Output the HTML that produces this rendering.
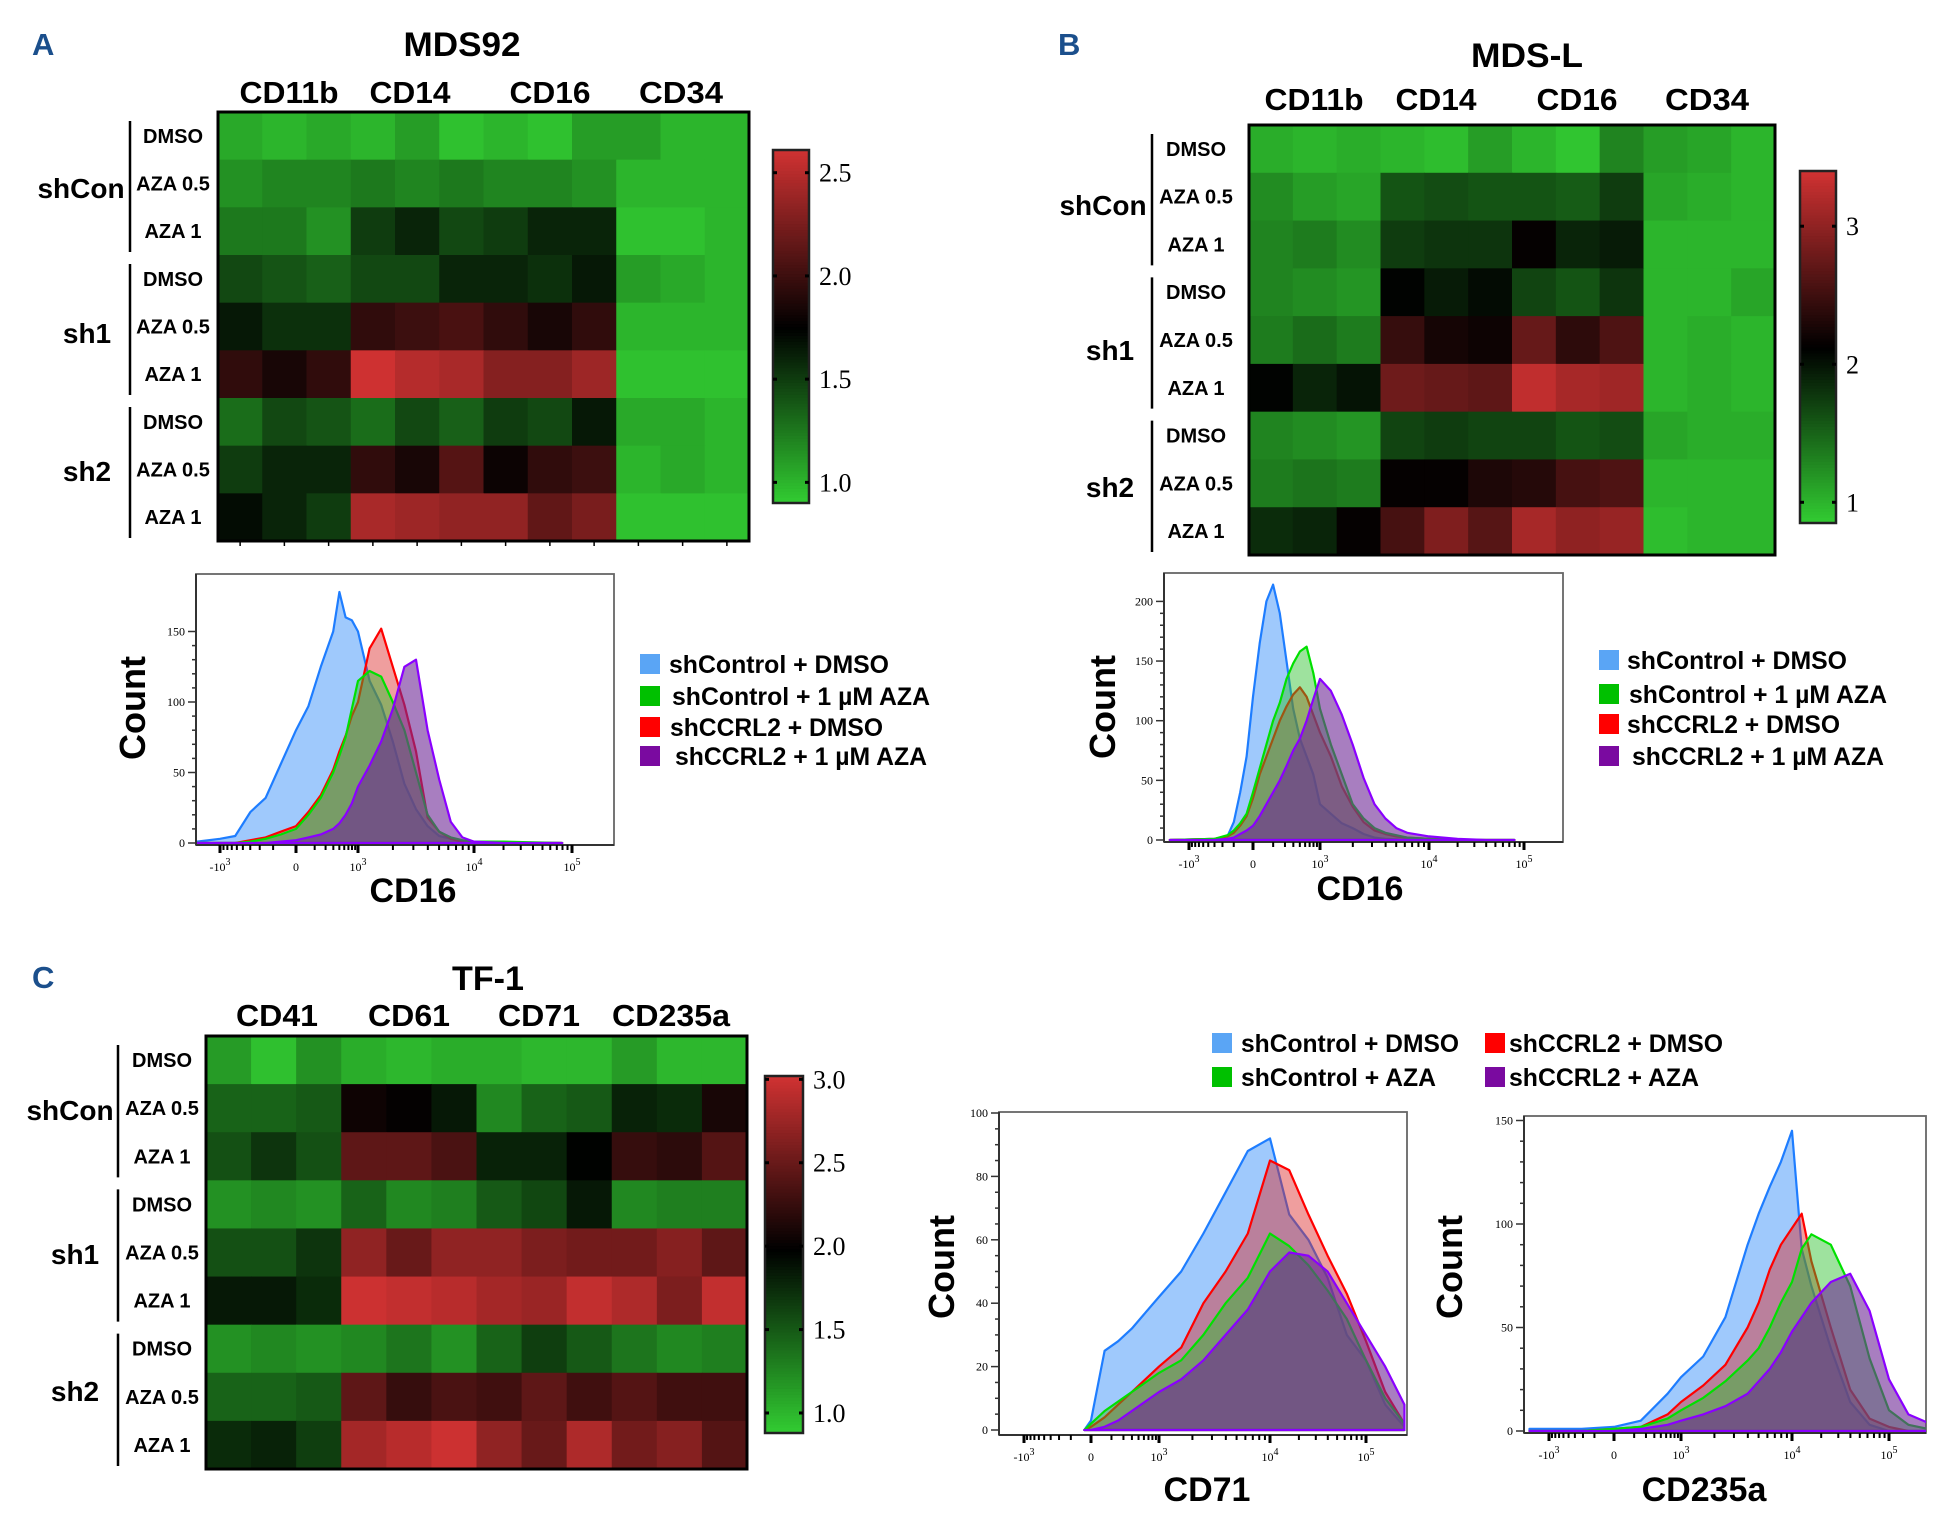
<!DOCTYPE html>
<html><head><meta charset="utf-8"><title>CCRL2 knockdown heatmaps and flow histograms</title>
<style>
html,body{margin:0;padding:0;background:#fff;}
svg{display:block;}
.nb{font-family:"Liberation Sans Narrow","Liberation Sans",sans-serif;font-weight:bold;fill:#000;}
.wb{font-family:"Liberation Sans",sans-serif;font-weight:bold;fill:#000;}
.sf{font-family:"Liberation Serif",serif;fill:#000;}
.pl{font-family:"Liberation Sans",sans-serif;font-weight:bold;fill:#1b4f8c;}
</style></head>
<body>
<svg id="fig" width="1936" height="1513" viewBox="0 0 1936 1513" xmlns="http://www.w3.org/2000/svg">
<rect width="1936" height="1513" fill="#fff"/>
<defs id="defs"></defs>
<!-- Panel A -->
<text class="pl" x="32" y="55" font-size="31">A</text>
<text class="nb" x="462" y="56" font-size="34" text-anchor="middle" textLength="117" lengthAdjust="spacingAndGlyphs">MDS92</text>
<text class="nb" x="289" y="103" font-size="31" text-anchor="middle" textLength="99" lengthAdjust="spacingAndGlyphs">CD11b</text>
<text class="nb" x="410" y="103" font-size="31" text-anchor="middle" textLength="81" lengthAdjust="spacingAndGlyphs">CD14</text>
<text class="nb" x="550" y="103" font-size="31" text-anchor="middle" textLength="81" lengthAdjust="spacingAndGlyphs">CD16</text>
<text class="nb" x="681" y="103" font-size="31" text-anchor="middle" textLength="84" lengthAdjust="spacingAndGlyphs">CD34</text>
<!-- Panel B -->
<text class="pl" x="1058" y="55" font-size="31">B</text>
<text class="nb" x="1527" y="67" font-size="34" text-anchor="middle" textLength="112" lengthAdjust="spacingAndGlyphs">MDS-L</text>
<text class="nb" x="1314" y="110" font-size="31" text-anchor="middle" textLength="99" lengthAdjust="spacingAndGlyphs">CD11b</text>
<text class="nb" x="1436" y="110" font-size="31" text-anchor="middle" textLength="81" lengthAdjust="spacingAndGlyphs">CD14</text>
<text class="nb" x="1577" y="110" font-size="31" text-anchor="middle" textLength="81" lengthAdjust="spacingAndGlyphs">CD16</text>
<text class="nb" x="1707" y="110" font-size="31" text-anchor="middle" textLength="84" lengthAdjust="spacingAndGlyphs">CD34</text>
<!-- Panel C -->
<text class="pl" x="32" y="988" font-size="31">C</text>
<text class="nb" x="488" y="990" font-size="34" text-anchor="middle" textLength="72" lengthAdjust="spacingAndGlyphs">TF-1</text>
<text class="nb" x="277" y="1026" font-size="31" text-anchor="middle" textLength="82" lengthAdjust="spacingAndGlyphs">CD41</text>
<text class="nb" x="409" y="1026" font-size="31" text-anchor="middle" textLength="82" lengthAdjust="spacingAndGlyphs">CD61</text>
<text class="nb" x="539" y="1026" font-size="31" text-anchor="middle" textLength="82" lengthAdjust="spacingAndGlyphs">CD71</text>
<text class="nb" x="671" y="1026" font-size="31" text-anchor="middle" textLength="118" lengthAdjust="spacingAndGlyphs">CD235a</text>
<g id="dyn"></g>
</svg>
<script>
// ---------- Heatmap data ----------
const rowLabels = ["DMSO","AZA 0.5","AZA 1","DMSO","AZA 0.5","AZA 1","DMSO","AZA 0.5","AZA 1"];
const groupLabels = ["shCon","sh1","sh2"];
const heatA = [
 [1.05,1.0,1.05,1.0,1.1,0.95,1.0,0.95,1.1,1.1,1.0,1.0],
 [1.15,1.2,1.2,1.25,1.2,1.25,1.2,1.2,1.15,1.0,1.0,1.0],
 [1.25,1.25,1.15,1.5,1.6,1.45,1.5,1.6,1.6,0.95,0.95,1.0],
 [1.45,1.4,1.35,1.45,1.45,1.6,1.6,1.55,1.65,1.1,1.05,1.0],
 [1.65,1.55,1.55,1.95,2.0,2.05,1.95,1.85,1.95,1.0,1.0,1.0],
 [1.95,1.85,1.95,2.6,2.5,2.45,2.3,2.3,2.4,0.95,0.95,0.95],
 [1.3,1.45,1.4,1.3,1.45,1.35,1.5,1.45,1.65,1.05,1.05,1.0],
 [1.5,1.6,1.6,1.95,1.85,2.1,1.8,1.95,2.0,1.0,1.05,1.0],
 [1.7,1.6,1.5,2.45,2.4,2.35,2.35,2.15,2.25,0.95,0.95,0.95]
];
const heatB = [
 [1.05,1.0,1.05,1.0,0.95,1.15,1.0,0.9,1.3,1.15,1.1,1.0],
 [1.25,1.15,1.1,1.6,1.65,1.6,1.6,1.55,1.75,1.1,1.05,1.0],
 [1.3,1.35,1.25,1.75,1.8,1.8,2.15,1.9,1.95,1.0,1.0,1.0],
 [1.3,1.25,1.2,2.1,1.95,2.05,1.7,1.6,1.8,1.0,1.0,1.1],
 [1.35,1.45,1.35,2.45,2.25,2.2,2.75,2.4,2.6,1.0,1.05,1.0],
 [2.1,1.9,2.0,2.8,2.75,2.7,3.3,3.15,3.1,1.0,1.05,1.0],
 [1.3,1.25,1.2,1.7,1.75,1.7,1.7,1.6,1.65,1.1,1.05,1.05],
 [1.35,1.4,1.35,2.15,2.15,2.3,2.35,2.55,2.6,1.0,1.0,1.0],
 [1.85,1.9,2.15,2.55,2.9,2.65,3.15,3.0,3.05,0.95,1.0,1.0]
];
const heatC = [
 [1.15,0.95,1.2,1.05,1.0,1.05,1.05,1.0,1.0,1.15,1.0,1.0],
 [1.45,1.45,1.5,2.05,2.0,1.85,1.25,1.45,1.5,1.8,1.75,2.1],
 [1.55,1.7,1.55,2.45,2.45,2.35,1.8,1.8,1.97,2.25,2.2,2.4],
 [1.2,1.25,1.2,1.45,1.25,1.3,1.5,1.6,1.85,1.25,1.3,1.3],
 [1.55,1.55,1.7,2.7,2.5,2.7,2.7,2.6,2.55,2.55,2.65,2.45],
 [1.85,1.85,1.75,3.0,2.95,2.9,2.8,2.75,2.95,2.85,2.6,2.95],
 [1.2,1.25,1.2,1.25,1.35,1.2,1.45,1.65,1.5,1.35,1.25,1.3],
 [1.45,1.45,1.5,2.45,2.25,2.35,2.3,2.45,2.3,2.4,2.3,2.3],
 [1.75,1.8,1.65,2.8,2.9,3.0,2.7,2.5,2.85,2.55,2.65,2.4]
];
const cbTicksA = [1.0,1.5,2.0,2.5];
const cbTickLabelsA = ["1.0","1.5","2.0","2.5"];
const cbTicksB = [1,2,3];
const cbTickLabelsB = ["1","2","3"];
const cbTicksC = [1.0,1.5,2.0,2.5,3.0];
const cbTickLabelsC = ["1.0","1.5","2.0","2.5","3.0"];

// ---------- Histogram data ----------
const seriesNames = ["shControl + DMSO","shControl + 1 µM AZA","shCCRL2 + DMSO","shCCRL2 + 1 µM AZA"];
const seriesNamesC = ["shControl + DMSO","shControl + AZA","shCCRL2 + DMSO","shCCRL2 + AZA"];
const binsA = [-1.3,-1.0,-0.8,-0.6,-0.4,-0.2,0,0.2,0.4,0.6,0.7,0.8,0.9,1.0,1.1,1.2,1.3,1.4,1.5,1.6,1.7,1.8,1.9,2.0,2.3,2.6,2.9];
const blueA   = [1,3,5,22,32,56,80,97,125,150,178,160,158,150,115,98,72,42,24,12,5,3,1,0,0,0,0];
const greenA  = [0,0,0,1,3,6,10,20,32,50,62,75,95,115,122,118,100,80,50,20,8,4,2,1,1,0.5,0];
const redA    = [0,0,0,2,4,8,12,22,34,52,65,76,90,100,138,152,125,98,65,18,8,3,1,0,0,0,0];
const purpleA = [0,0,0,0,0,1,2,4,6,10,14,20,28,40,55,72,95,125,130,80,45,15,4,1,0,0,0];
const binsB = [-1.3,-0.6,-0.4,-0.3,-0.2,-0.1,0,0.1,0.2,0.3,0.4,0.5,0.6,0.7,0.8,0.9,1.0,1.1,1.2,1.3,1.4,1.5,1.6,1.7,1.8,2.0,2.3,2.6,2.9];
const blueB   = [0,1,3,15,40,70,120,165,200,214,190,150,110,85,70,55,30,22,14,10,5,2,1,0.5,0,0,0,0,0];
const greenB  = [0,1,4,8,14,22,40,60,80,100,115,135,148,158,162,140,110,80,55,30,18,10,6,4,2,1,0,0,0];
const redB    = [0,1,3,6,12,20,35,55,70,85,100,112,122,128,120,105,90,70,45,28,15,8,5,3,2,1,0,0,0];
const purpleB = [0,0,1,2,5,8,12,20,30,40,50,62,75,85,100,118,135,125,105,80,52,30,18,10,6,3,1,0,0];
const bins71 = [-0.1,0,0.2,0.4,0.6,0.8,1.0,1.2,1.4,1.6,1.8,2.0,2.2,2.4,2.6,2.8,3.0,3.2,3.4];
const blue71   = [0,3,25,28,32,37,42,50,62,75,88,92,68,60,48,30,22,8,1];
const green71  = [0,2,6,9,12,15,18,22,30,40,48,62,58,52,44,35,22,10,2];
const red71    = [0,1,4,8,12,16,20,26,40,50,62,85,82,68,55,43,28,12,2];
const purple71 = [0,0,1,3,6,9,12,16,22,30,38,50,56,55,50,40,30,20,8];
const bins235 = [-1.3,-0.5,0,0.4,0.8,1.0,1.2,1.4,1.6,1.7,1.8,1.9,2.0,2.1,2.2,2.4,2.6,2.8,3.0,3.2,3.5];
const blue235   = [1,1,2,5,18,26,36,55,90,105,118,130,145,88,70,40,14,3,0,0,0];
const green235  = [0,0,1,2,6,10,16,24,34,40,50,62,72,88,95,90,70,35,10,3,0];
const red235    = [0,0,1,2,8,14,22,32,50,62,78,90,98,105,82,50,20,6,2,0,0];
const purple235 = [0,0,0,1,3,5,8,12,18,24,30,38,48,55,62,72,76,58,25,8,2];
const xTickDecades = [-1,0,1,2,3];
const yTicksA = [0,50,100,150];
const yTicksB = [0,50,100,150,200];
const yTicks71 = [0,20,40,60,80,100];
const yTicks235 = [0,50,100,150];

const NS = "http://www.w3.org/2000/svg";
const root = document.getElementById('dyn');
const defs = document.getElementById('defs');
function mk(tag, attrs, parent){
  const el = document.createElementNS(NS, tag);
  for (const k in attrs) el.setAttribute(k, attrs[k]);
  (parent||root).appendChild(el);
  return el;
}
function lerp(a,b,t){return a+(b-a)*t;}
function heatColor(v, vmin, vmid, vmax){
  if (v <= vmid){
    const t = Math.max(0, Math.min(1,(vmid - v)/(vmid - vmin)));
    return `rgb(${Math.round(50*t)},${Math.round(205*t)},${Math.round(50*t)})`;
  }
  const t = Math.max(0, Math.min(1,(v - vmid)/(vmax - vmid)));
  return `rgb(${Math.round(208*t)},${Math.round(50*t)},${Math.round(50*t)})`;
}

function drawHeatmap(id, vals, g){
  const grp = mk('g', {});
  
  
  const nr = vals.length, nc = vals[0].length;
  const cw = (g.x1 - g.x0)/nc, rh = (g.y1 - g.y0)/nr;
  vals.forEach((row, r) => row.forEach((v, c) => {
    const cell = mk('rect', {x: g.x0 + c*cw, y: g.y0 + r*rh, width: cw+0.6, height: rh+0.6, fill: heatColor(v, g.vmin, g.vmid, g.vmax)}, grp);
    
    
  }));
  const border = mk('rect', {x: g.x0, y: g.y0, width: g.x1-g.x0, height: g.y1-g.y0, fill: 'none', stroke: '#000', 'stroke-width': 3}, grp);
  
  
  rowLabels.forEach((lab, r) => {
    const t = mk('text', {x: g.rowX, y: g.y0 + (r+0.5)*rh + 7, 'font-size': 20, 'text-anchor': 'middle', class: 'nb'}, grp);
    t.textContent = lab;
    
    
  });
  groupLabels.forEach((lab, k) => {
    const ya = g.y0 + k*3*rh + 9, yb = g.y0 + (k+1)*3*rh - 3;
    const ln = mk('line', {x1: g.barX, x2: g.barX, y1: ya, y2: yb, stroke: '#000', 'stroke-width': 2.5}, grp);
    
    
    const t = mk('text', {x: g.groupX[k], y: g.groupY[k] + 10, 'font-size': 28, 'text-anchor': 'middle', class: 'nb'}, grp);
    t.textContent = lab;
    
    
  });
  if (g.bottomTicks){
    for (let c = 0; c < nc; c++){
      const tk = mk('line', {x1: g.x0 + (c+0.5)*cw, x2: g.x0 + (c+0.5)*cw, y1: g.y1, y2: g.y1+5, stroke: '#000', 'stroke-width': 1.5}, grp);
      
      
    }
  }
  const cb = g.cb;
  const cbG = mk('g', {}, grp);
  
  
  const steps = 120;
  for (let i = 0; i < steps; i++){
    const v = lerp(g.vmin, g.vmax, (i+0.5)/steps);
    const y = lerp(cb.y1, cb.y0, (i+1)/steps);
    const s = mk('rect', {x: cb.x0, y: y, width: cb.x1-cb.x0, height: (cb.y1-cb.y0)/steps + 0.6, fill: heatColor(v, g.vmin, g.vmid, g.vmax)}, cbG);
    
    
  }
  const cbb = mk('rect', {x: cb.x0, y: cb.y0, width: cb.x1-cb.x0, height: cb.y1-cb.y0, fill: 'none', stroke: '#222', 'stroke-width': 2.5}, cbG);
  
  
  const ys = v => cb.y1 - (v - g.vmin)/(g.vmax - g.vmin)*(cb.y1 - cb.y0);
  cb.ticks.forEach((v, i) => {
    const y = ys(v);
    const t1 = mk('line', {x1: cb.x0, x2: cb.x0+4, y1: y, y2: y, stroke: '#000', 'stroke-width': 3}, cbG);
    
    
    const t2 = mk('line', {x1: cb.x1-4, x2: cb.x1, y1: y, y2: y, stroke: '#000', 'stroke-width': 3}, cbG);
    
    
    const lab = mk('text', {x: cb.x1 + 10, y: y + 9, 'font-size': 26, class: 'sf'}, cbG);
    lab.textContent = cb.labels[i];
    
    
  });
}

drawHeatmap('mds92', heatA, {x0:218,x1:749,y0:112,y1:541,vmin:0.9,vmid:1.75,vmax:2.61,rowX:173,barX:130,
  groupX:[81,87,87],groupY:[188,333,471],bottomTicks:true,
  cb:{x0:773,x1:809,y0:150,y1:503,ticks:cbTicksA,labels:cbTickLabelsA}});
drawHeatmap('mdsl', heatB, {x0:1249,x1:1775,y0:125,y1:555,vmin:0.85,vmid:2.12,vmax:3.4,rowX:1196,barX:1152,
  groupX:[1103,1110,1110],groupY:[205,350,487],bottomTicks:false,
  cb:{x0:1800,x1:1836,y0:171,y1:523,ticks:cbTicksB,labels:cbTickLabelsB}});
drawHeatmap('tf1', heatC, {x0:206,x1:747,y0:1036,y1:1469,vmin:0.88,vmid:1.98,vmax:3.02,rowX:162,barX:118,
  groupX:[70,75,75],groupY:[1110,1254,1391],bottomTicks:false,
  cb:{x0:765,x1:803,y0:1076,y1:1433,ticks:cbTicksC,labels:cbTickLabelsC}});

// ---------- Histograms ----------
const seriesStyles = [
  {stroke:'#1e7dff', fill:'rgba(95,165,250,0.6)'},
  {stroke:'#00e000', fill:'rgba(40,190,40,0.45)'},
  {stroke:'#ff0000', fill:'rgba(220,40,40,0.45)'},
  {stroke:'#8a00ff', fill:'rgba(110,40,150,0.6)'}
];
function drawHist(id, bins, series, h){
  const grp = mk('g', {});
  
  
  const cp = mk('clipPath', {id: 'clip-' + id}, defs);
  mk('rect', {x: h.x0, y: h.yt, width: h.x1-h.x0, height: h.yb-h.yt}, cp);
  const xs = u => {
    const d = h.dec;
    if (u <= -1) return d[0] + (u+1)*(d[1]-d[0]);
    if (u >= 3) return d[4] + (u-3)*(d[4]-d[3]);
    const i = Math.floor(u)+1; const f = u - Math.floor(u);
    return d[i] + f*(d[i+1]-d[i]);
  };
  const ys = c => h.y0 - c*h.py;
  const box = mk('rect', {x: h.x0, y: h.yt, width: h.x1-h.x0, height: h.yb-h.yt, fill: '#fff', stroke: '#666', 'stroke-width': 1.8}, grp);
  
  
  const sg = mk('g', {'clip-path': `url(#clip-${id})`}, grp);
  
  
  [0,2,1,3].forEach(si => {
    const vals = series[si];
    let d = `M${xs(bins[0])},${ys(0)}`;
    bins.forEach((u,i) => { d += ` L${xs(u).toFixed(1)},${ys(vals[i]).toFixed(1)}`; });
    d += ` L${xs(bins[bins.length-1])},${ys(0)} Z`;
    const p = mk('path', {d: d, fill: seriesStyles[si].fill, stroke: seriesStyles[si].stroke, 'stroke-width': 2.2, 'stroke-linejoin':'round'}, sg);
    
    
  });
  const ya = mk('line', {x1: h.x0, x2: h.x0, y1: h.yt, y2: h.yb, stroke: '#333', 'stroke-width': 2}, grp);
  
  
  const ymax = h.yTicks[h.yTicks.length-1];
  for (let c = 0; c <= ymax + 0.01; c += h.minor){
    const y = ys(c);
    if (y < h.yt - 1) break;
    const isMajor = h.yTicks.includes(Math.round(c));
    const tk = mk('line', {x1: h.x0 - (isMajor ? 8 : 4), x2: h.x0, y1: y, y2: y, stroke: '#333', 'stroke-width': 1.5}, grp);
    
    
  }
  h.yTicks.forEach(c => {
    const t = mk('text', {x: h.x0 - 11, y: ys(c) + 4, 'font-size': 12, 'text-anchor': 'end', class: 'sf'}, grp);
    t.textContent = String(c);
    
    
  });
  const xa = mk('line', {x1: h.x0, x2: h.x1, y1: h.yb, y2: h.yb, stroke: '#333', 'stroke-width': 2}, grp);
  
  
  xTickDecades.forEach(k => {
    const x = xs(k);
    const tk = mk('line', {x1: x, x2: x, y1: h.yb, y2: h.yb + 8, stroke: '#000', 'stroke-width': 3}, grp);
    
    
    if (k < 3){
      for (let m = 2; m <= 9; m++){
        const xm = xs(k >= 0 ? k + Math.log10(m) : -1 + (1-Math.log10(m)));
        const mt = mk('line', {x1: xm, x2: xm, y1: h.yb, y2: h.yb + 5, stroke: '#000', 'stroke-width': 2}, grp);
        
        
      }
    }
    const lab = mk('text', {x: x, y: h.yb + 26, 'font-size': 12, 'text-anchor': 'middle', class: 'sf'}, grp);
    
    
    if (k === 0){ lab.textContent = '0'; }
    else {
      const base = document.createElementNS(NS, 'tspan');
      base.textContent = (k < 0 ? '-10' : '10');
      lab.appendChild(base);
      const sup = document.createElementNS(NS, 'tspan');
      sup.setAttribute('dy', '-6');
      sup.setAttribute('font-size', '10');
      sup.textContent = String(k < 0 ? 3 : k + 2);
      lab.appendChild(sup);
    }
  });
  const cnt = mk('text', {x: 0, y: 0, 'font-size': 36, 'text-anchor': 'middle', class: 'wb', transform: `translate(${h.countX},${h.countY}) rotate(-90)`}, grp);
  cnt.textContent = 'Count';
  
  
  const xl = mk('text', {x: h.labX, y: h.labY, 'font-size': 34, 'text-anchor': 'middle', class: 'nb'}, grp);
  xl.textContent = h.label;
  
  
}
drawHist('mds92-cd16', binsA, [blueA, greenA, redA, purpleA],
  {x0:196,x1:614,yt:574,yb:845,y0:843,py:1.41,dec:[220,296,358,474,572],yTicks:yTicksA,minor:10,
   countX:145,countY:708,labX:413,labY:902,label:'CD16'});
drawHist('mdsl-cd16', binsB, [blueB, greenB, redB, purpleB],
  {x0:1164,x1:1563,yt:573,yb:842,y0:840,py:1.193,dec:[1189,1253,1320,1429,1524],yTicks:yTicksB,minor:10,
   countX:1115,countY:707,labX:1360,labY:900,label:'CD16'});
drawHist('tf1-cd71', bins71, [blue71, green71, red71, purple71],
  {x0:999,x1:1407,yt:1112,yb:1435,y0:1430,py:3.17,dec:[1024,1091,1159,1270,1366],yTicks:yTicks71,minor:5,
   countX:954,countY:1267,labX:1207,labY:1501,label:'CD71'});
drawHist('tf1-cd235a', bins235, [blue235, green235, red235, purple235],
  {x0:1524,x1:1926,yt:1116,yb:1433,y0:1431,py:2.07,dec:[1549,1614,1681,1792,1889],yTicks:yTicks235,minor:10,
   countX:1462,countY:1267,labX:1704,labY:1501,label:'CD235a'});

// ---------- Legends ----------
const legendColors = ['#5aa5f5','#00c000','#ff0000','#7a0aa0'];
function legendItem(sx, sy, tx, txt, color, tl){
  const g = mk('g', {});
  
  
  const sq = mk('rect', {x: sx, y: sy - 10, width: 20, height: 20, fill: color}, g);
  
  
  const t = mk('text', {x: tx, y: sy + 9, 'font-size': 25, class: 'nb', textLength: tl, lengthAdjust: 'spacingAndGlyphs'}, g);
  t.textContent = txt;
  
  
}
const legAy = [664,696,727,756], legAw = [220,258,213,252], legAtx = [669,672,670,675];
seriesNames.forEach((n,i) => legendItem(640, legAy[i], legAtx[i], n, legendColors[i], legAw[i]));
const legBy = [660,694,724,756], legBtx = [1627,1629,1627,1632];
seriesNames.forEach((n,i) => legendItem(1599, legBy[i], legBtx[i], n, legendColors[i], legAw[i]));
const legCx = [1212,1212,1485,1485], legCtx = [1241,1241,1509,1509], legCy = [1043,1077,1043,1077], legCw = [218,195,214,190];
seriesNamesC.forEach((n,i) => legendItem(legCx[i], legCy[i], legCtx[i], n, legendColors[i], legCw[i]));
</script>
</body></html>
